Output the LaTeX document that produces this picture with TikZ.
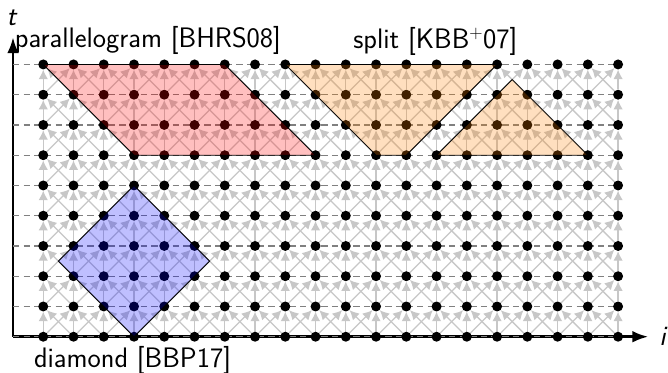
\documentclass[tikz,border=0pt]{standalone}
\usetikzlibrary{arrows.meta}
\begin{document}
\begin{tikzpicture}[x=1cm,y=1cm,
  font=\fontsize{26.5}{30}\selectfont\sffamily,
  site/.style={circle,inner sep=0pt,minimum size=0.33cm},
  dep/.style={draw=black!22,line width=1.2pt,-{Latex[length=9pt,width=9pt]}},
  gridline/.style={draw=black!50,line width=1.2pt,dash pattern=on 6pt off 4pt},
  axis/.style={line width=2.6pt,-{Latex[length=15pt,width=11pt]}},
  tile/.style={draw=black,line width=0.8pt,fill opacity=0.25},
  lbl/.style={anchor=base,inner sep=0pt}]
\useasboundingbox (-1.43,-1.17) rectangle (20.65,11.13);

% axes
\coordinate (O) at (-1,0);
\coordinate (tend) at (-1,9.9);
\coordinate (iend) at (20,0);
\draw[axis] (O) -- (tend);
\draw[axis] (O) -- (iend);
\node[lbl] (tlabel) at (-1.03,10.3) {\textit{t}};
\node[lbl] (ilabel) at (20.5,-0.28) {\textit{i}};

% lattice sites
\foreach \t in {0,...,9}{
  \foreach \i in {0,...,19}{
    \node[site] (p-\i-\t) at (\i,\t) {};
  }
}

% time rows
\foreach \t in {0,...,9}{
  \draw[gridline] (-1,\t) -- (p-19-\t.center);
}

% stencil dependencies
\foreach \t [evaluate=\t as \s using int(\t-1)] in {1,...,9}{
  \foreach \i in {0,...,19}{
    \draw[dep] (p-\i-\s) -- (p-\i-\t);
    \ifnum\i>0
      \pgfmathtruncatemacro\l{\i-1}
      \draw[dep] (p-\l-\s) -- (p-\i-\t);
    \fi
    \ifnum\i<19
      \pgfmathtruncatemacro\r{\i+1}
      \draw[dep] (p-\r-\s) -- (p-\i-\t);
    \fi
  }
}

% sites on top
\foreach \t in {0,...,9}{
  \foreach \i in {0,...,19}{
    \fill (p-\i-\t.center) circle (0.165);
  }
}

% tiles
\draw[tile,fill=red] (0,9) -- (6,9) -- (9,6) -- (3,6) -- cycle;
\draw[tile,fill=orange] (8,9) -- (15,9) -- (12,6) -- (11,6) -- cycle;
\draw[tile,fill=orange] (13,6) -- (18,6) -- (15.5,8.5) -- cycle;
\draw[tile,fill=blue] (3,0) -- (5.5,2.5) -- (3,5) -- (0.5,2.5) -- cycle;

% tile labels
\node[lbl] (lpar) at (3.46,9.56) {parallelogram [BHRS08]};
\node[lbl] (lsplit) at (12.96,9.53) {split [KBB$^+$07]};
\node[lbl] (ldia) at (2.95,-1.02) {diamond [BBP17]};
\end{tikzpicture}
\end{document}
